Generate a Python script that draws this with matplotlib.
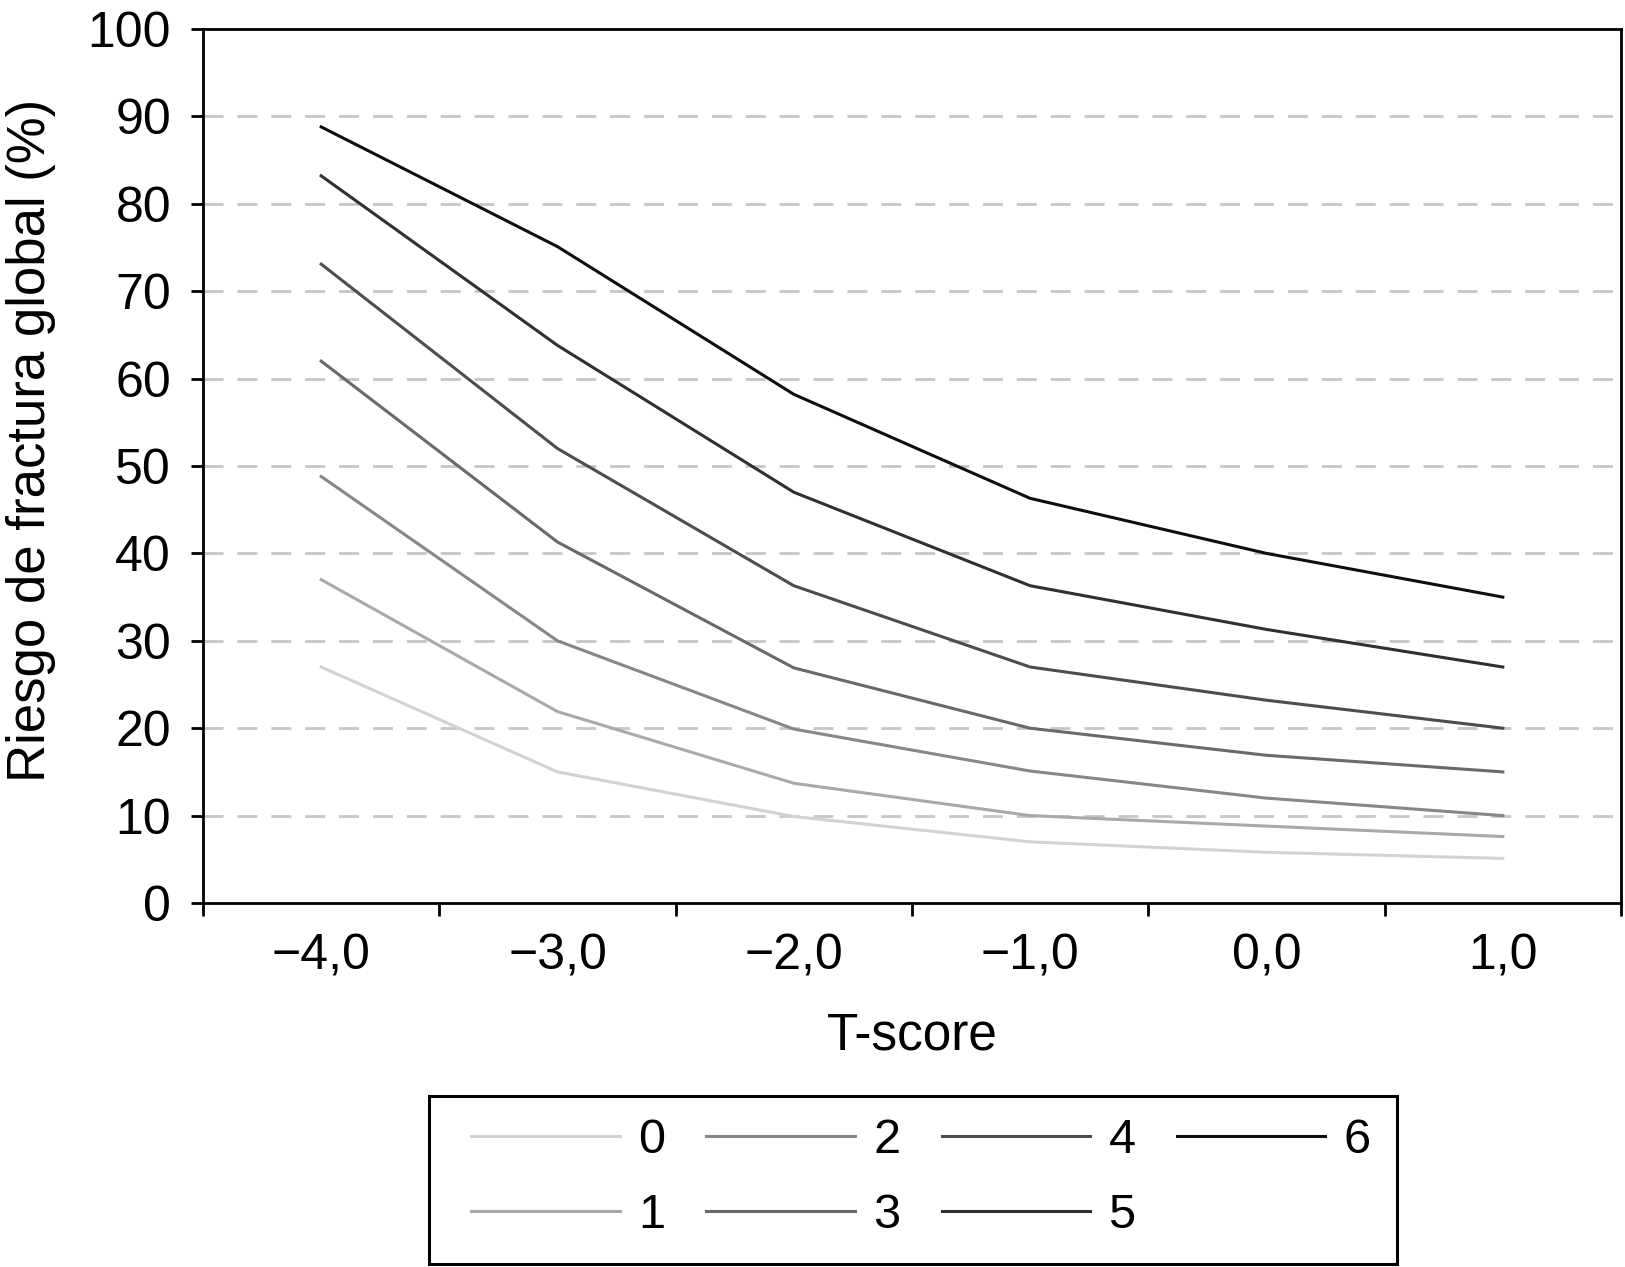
import matplotlib
matplotlib.use("Agg")
import matplotlib.pyplot as plt
from matplotlib.patches import Rectangle

plt.rcParams['font.family'] = ['Liberation Sans', 'DejaVu Sans']

tscore_labels = ["\u22124,0", "\u22123,0", "\u22122,0", "\u22121,0", "0,0", "1,0"]
series_names = ["0", "1", "2", "3", "4", "5", "6"]
s0 = [27.0, 15.0, 9.9, 7.0, 5.8, 5.1]
s1 = [37.0, 21.9, 13.7, 10.0, 8.8, 7.6]
s2 = [48.8, 30.0, 19.9, 15.1, 12.0, 10.0]
s3 = [62.0, 41.3, 26.9, 20.0, 16.9, 15.0]
s4 = [73.1, 52.0, 36.3, 27.0, 23.2, 20.0]
s5 = [83.2, 63.8, 47.0, 36.3, 31.3, 27.0]
s6 = [88.8, 75.1, 58.2, 46.3, 40.0, 35.0]
series = [s0, s1, s2, s3, s4, s5, s6]
colors = ["#d2d2d2", "#a9a9a9", "#878787", "#696969", "#4d4d4d", "#303030", "#0e0e0e"]

W, H = 1625, 1267
fig = plt.figure(figsize=(W / 100, H / 100), dpi=100)
ax = fig.add_axes([203 / W, 1 - 903 / H, 1418 / W, 874 / H])

x = list(range(len(tscore_labels)))
for vals, c, name in zip(series, colors, series_names):
    ax.plot(x, vals, color=c, lw=2.2, label=name, solid_joinstyle='round', zorder=3)

ax.set_xlim(-0.5, len(x) - 0.5)
ax.set_ylim(0, 100)
ax.set_yticks(range(0, 101, 10))
for g in range(10, 100, 10):
    ax.axhline(g, color="#c6c6c6", lw=2.0, dashes=(7.2, 5), zorder=1)

ax.set_xticks([i - 0.5 for i in range(len(x) + 1)])
ax.set_xticklabels([])
ax.set_xticks(x, minor=True)
ax.set_xticklabels(tscore_labels, minor=True)
ax.tick_params(axis='x', which='major', direction='out', length=9, width=2.0)
ax.tick_params(axis='x', which='minor', length=0, pad=22, labelsize=36)
ax.tick_params(axis='y', direction='out', length=9, width=2.0, pad=14, labelsize=36)

for sp in ax.spines.values():
    sp.set_linewidth(2.0)
    sp.set_color("black")

fig.text(31 / W, 1 - 440 / H, "Riesgo de fractura global (%)", rotation=90,
         ha='center', va='center', fontsize=38)
fig.text(912 / W, 1 - 1036 / H, "T-score", ha='center', va='center', fontsize=37)

leg = fig.legend(loc='center', bbox_to_anchor=(921 / W, 1 - 1178 / H), ncol=4,
                 frameon=False, fontsize=35, handlelength=3.05, handletextpad=0.38,
                 columnspacing=0.85, labelspacing=0.62)
for line in leg.get_lines():
    line.set_linewidth(2.2)

fig.patches.append(Rectangle((429 / W, 1 - 1264 / H), (1397 - 429) / W, (1264 - 1096) / H,
                             transform=fig.transFigure, fill=False, edgecolor='black',
                             lw=2.2))

fig.savefig("out.png", dpi=100)
